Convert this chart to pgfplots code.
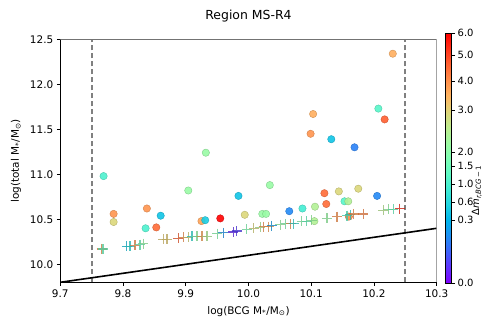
\documentclass[border=0pt]{standalone}
\usepackage{fontspec}
\setmainfont{DejaVu Sans}
\usepackage{pgfplots}
\pgfplotsset{compat=1.18}

% matplotlib "rainbow"
\pgfplotsset{
  colormap={mplrainbow}{
    rgb=(0.5,0,1) rgb=(0.375,0.195,0.995) rgb=(0.25,0.383,0.981)
    rgb=(0.125,0.556,0.957) rgb=(0,0.707,0.924) rgb=(0.125,0.831,0.882)
    rgb=(0.25,0.924,0.831) rgb=(0.375,0.981,0.773) rgb=(0.5,1,0.707)
    rgb=(0.625,0.981,0.634) rgb=(0.75,0.924,0.556) rgb=(0.875,0.831,0.471)
    rgb=(1,0.707,0.383) rgb=(1,0.556,0.290) rgb=(1,0.383,0.195)
    rgb=(1,0.195,0.098) rgb=(1,0,0)
  }
}

\begin{document}
\begin{tikzpicture}
\path[use as bounding box] (-60.3bp,-40.7bp) rectangle (424.7bp,282.3bp);
\begin{axis}[
  at={(0,0)}, anchor=south west,
  scale only axis, width=376.4bp, height=243bp,
  xmin=9.7, xmax=10.3, ymin=9.8, ymax=12.5,
  axis lines=left,
  axis line style={-, line width=0.8bp},
  xtick={9.7,9.8,9.9,10.0,10.1,10.2,10.3},
  ytick={10,10.5,11,11.5,12,12.5},
  tick align=outside,
  major tick length=3.5bp,
  tick style={black, line width=0.8bp},
  font=\fontsize{10.5}{12}\selectfont,
  /pgf/number format/assume math mode=true,
  xticklabel style={/pgf/number format/.cd, fixed, fixed zerofill, precision=1},
  yticklabel style={/pgf/number format/.cd, fixed, fixed zerofill, precision=1},
  title={Region MS-R4},
  title style={font=\fontsize{12.5}{14}\selectfont, yshift=8bp},
  xlabel={log(BCG M\textsubscript{*}/M\textsubscript{⊙})},
  ylabel={log(total M\textsubscript{*}/M\textsubscript{⊙})},
  ylabel style={xshift=0bp, yshift=2bp},
  xlabel style={yshift=-2bp},
  colormap name=mplrainbow,
  point meta min=0, point meta max=1,
  colorbar right,
  colorbar style={
    at={(parent axis.east)}, anchor=west, xshift=0bp, yshift=2.8bp,
    scale only axis, width=6.5bp, height=250bp,
    ytick={0,0.252,0.324,0.396,0.468,0.524,0.692,0.808,0.912,1},
    yticklabels={0.0,0.3,0.6,1.0,1.5,2.0,3.0,4.0,5.0,6.0},
    ytick pos=right, yticklabel pos=right,
    yticklabel style={xshift=-1bp},
    ylabel={Δ\textit{m}\textsubscript{\textit{r,BCG}\,−\,1}},
    every axis y label/.style={at={(rel axis cs:1,0.37)}, rotate=90,
      anchor=center, yshift=-25bp},
    tick align=outside, major tick length=3.5bp,
    tick style={black, line width=0.8bp},
    axis line style={line width=0.8bp},
  },
]

% galaxies (circles)
\addplot[scatter, only marks, mark=*, mark size=3.7bp, opacity=0.9,
  point meta=explicit] coordinates {
  (10.230,12.34) [0.76]
  (10.207,11.73) [0.42]
  (10.217,11.61) [0.88]
  (10.103,11.67) [0.76]
  (10.099,11.45) [0.80]
  (10.132,11.39) [0.28]
  (10.169,11.30) [0.17]
  (10.034,10.88) [0.55]
  (10.175,10.84) [0.68]
  (10.144,10.81) [0.68]
  (10.121,10.79) [0.86]
  (10.205,10.76) [0.18]
  (10.124,10.67) [0.86]
  (10.153,10.70) [0.42]
  (10.159,10.70) [0.60]
  (10.065,10.59) [0.18]
  (10.086,10.62) [0.38]
  (10.106,10.64) [0.60]
  (10.022,10.56) [0.55]
  (10.028,10.56) [0.55]
  (9.994,10.55) [0.68]
  (9.984,10.76) [0.28]
  (10.105,10.48) [0.60]
  (10.160,10.53) [0.82]
  (9.769,10.98) [0.40]
  (9.932,11.24) [0.55]
  (9.904,10.82) [0.55]
  (9.785,10.56) [0.80]
  (9.785,10.47) [0.68]
  (9.838,10.62) [0.80]
  (9.860,10.54) [0.28]
  (9.836,10.40) [0.40]
  (9.853,10.41) [0.86]
  (9.925,10.48) [0.78]
  (9.931,10.49) [0.30]
  (9.955,10.51) [1.00]
};

% BCG values (crosses)
\addplot[scatter, only marks, mark=+, mark size=5bp, line width=1.2bp,
  opacity=0.8, point meta=explicit] coordinates {
  (9.766,10.17) [0.80]
  (9.768,10.17) [0.45]
  (9.806,10.20) [0.28]
  (9.811,10.20) [0.35]
  (9.819,10.21) [0.80]
  (9.827,10.22) [0.45]
  (9.832,10.23) [0.55]
  (9.864,10.28) [0.70]
  (9.870,10.28) [0.70]
  (9.888,10.29) [0.88]
  (9.896,10.30) [0.80]
  (9.904,10.30) [0.68]
  (9.910,10.31) [0.35]
  (9.918,10.31) [0.55]
  (9.926,10.31) [0.78]
  (9.934,10.31) [0.60]
  (9.950,10.34) [0.52]
  (9.960,10.35) [0.20]
  (9.976,10.36) [0.05]
  (9.981,10.37) [0.08]
  (9.997,10.39) [0.50]
  (10.008,10.40) [0.68]
  (10.019,10.41) [0.60]
  (10.024,10.42) [0.80]
  (10.032,10.42) [0.78]
  (10.037,10.43) [0.22]
  (10.051,10.44) [0.55]
  (10.059,10.45) [0.50]
  (10.067,10.45) [0.80]
  (10.072,10.45) [0.35]
  (10.085,10.48) [0.52]
  (10.093,10.48) [0.45]
  (10.101,10.49) [0.55]
  (10.125,10.51) [0.55]
  (10.141,10.53) [0.80]
  (10.157,10.54) [0.42]
  (10.162,10.55) [0.35]
  (10.168,10.56) [0.80]
  (10.183,10.56) [0.82]
  (10.215,10.60) [0.62]
  (10.223,10.61) [0.55]
  (10.231,10.61) [0.45]
  (10.241,10.62) [0.95]
};

% limits
\addplot[gray, line width=1.8bp, dash pattern=on 5.5bp off 2.5bp]
  coordinates {(9.75,9.8) (9.75,12.5)};
\addplot[gray, line width=1.8bp, dash pattern=on 5.5bp off 2.5bp]
  coordinates {(10.25,9.8) (10.25,12.5)};
\addplot[black, line width=1.6bp] coordinates {(9.7,9.8) (10.3,10.4)};

\draw[black!55, line width=0.8bp] (rel axis cs:0,1) -- (rel axis cs:1,1) -- (rel axis cs:1,0);
\end{axis}
\end{tikzpicture}
\end{document}
